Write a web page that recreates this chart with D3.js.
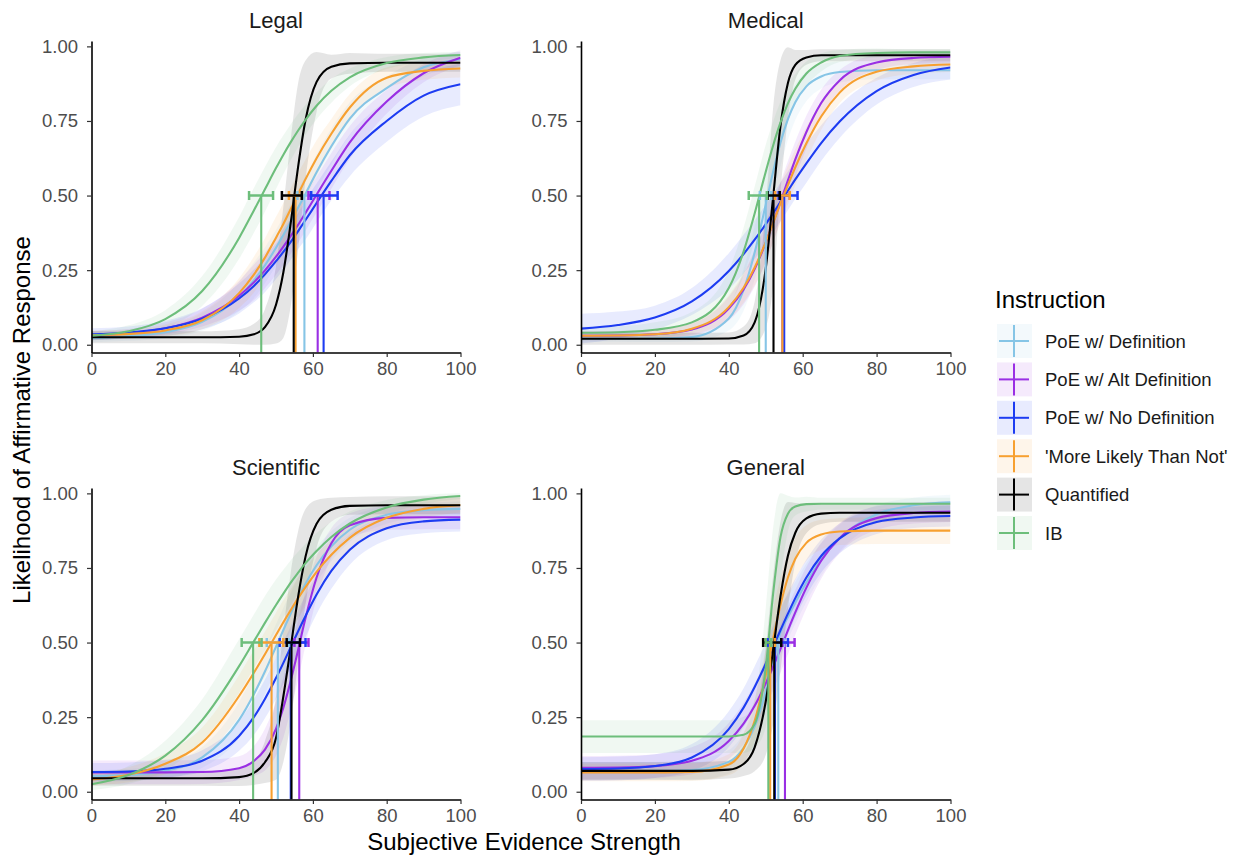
<!DOCTYPE html>
<html><head><meta charset="utf-8">
<script src="https://cdn.jsdelivr.net/npm/d3@7"></script>
<style>
body{margin:0;background:#fff}
svg{display:block}
text{font-family:"Liberation Sans",Arial,Helvetica,sans-serif}
</style>
</head><body>
<svg id="chart" width="1249" height="858"></svg>
<script>
// ---------------- DATA ----------------
const xGrid = [0,10,20,30,40,44,47,50,52,54,56,58,61,65,70,80,90,100];
const instructions = ["PoE w/ Definition","PoE w/ Alt Definition","PoE w/ No Definition","'More Likely Than Not'","Quantified","IB"];
const colors = ["#86c5e6","#9a2fe4","#1d3cf2","#f7a030","#000000","#6dbe7b"];
const panelNames = ["Legal","Medical","Scientific","General"];
const xTicks = [0,20,40,60,80,100];
const yTicks = [0,0.25,0.5,0.75,1];

// Legal
const legalLines = [
 [.023,.028,.042,.077,.161,.216,.266,.325,.368,.412,.460,.506,.578,.665,.758,.860,.930,.957],
 [.031,.038,.055,.091,.164,.209,.249,.295,.329,.365,.402,.442,.503,.583,.678,.815,.910,.962],
 [.035,.041,.055,.087,.155,.197,.236,.280,.311,.345,.381,.418,.475,.549,.635,.750,.835,.873],
 [.032,.036,.048,.082,.173,.235,.292,.359,.405,.455,.505,.555,.625,.707,.795,.895,.918,.926],
 [.025,.025,.025,.025,.027,.035,.059,.134,.243,.409,.597,.753,.881,.932,.943,.945,.945,.945],
 [.030,.045,.086,.180,.358,.450,.521,.592,.637,.679,.718,.754,.801,.851,.896,.944,.963,.971]
];
const legalBands = [
 [.015,.015,.02,.03,.05,.06,.06,.06,.06,.06,.06,.06,.06,.06,.055,.04,.03,.025],
 [.015,.015,.02,.03,.05,.06,.06,.06,.06,.06,.06,.06,.06,.06,.055,.04,.03,.025],
 [.02,.02,.025,.035,.05,.055,.06,.06,.06,.06,.06,.065,.065,.065,.07,.07,.07,.07],
 [.015,.015,.02,.03,.05,.06,.065,.07,.07,.07,.07,.065,.06,.05,.045,.035,.03,.03],
 [.02,.02,.02,.02,.025,.035,.06,.13,.22,.28,.28,.2,.1,.04,.035,.03,.03,.03],
 [.015,.02,.03,.05,.07,.075,.075,.07,.065,.06,.055,.05,.045,.04,.03,.02,.015,.01]
];
const legalThresh = [57.7,61.3,62.9,55.3,54.8,46.0];
const legalErrLo = [55.8,58.8,59.5,53.5,51.6,42.7];
const legalErrHi = [59.6,64.5,66.7,57.0,57.0,49.2];

// Medical
const medicalLines = [
 [.020,.020,.021,.026,.088,.184,.309,.470,.580,.678,.756,.813,.866,.899,.914,.920,.920,.920],
 [.030,.031,.035,.051,.121,.185,.254,.342,.409,.480,.551,.621,.713,.810,.886,.946,.961,.965],
 [.054,.066,.091,.145,.247,.304,.352,.404,.441,.479,.516,.554,.608,.676,.748,.850,.904,.929],
 [.030,.031,.035,.054,.126,.191,.259,.344,.408,.475,.535,.595,.675,.765,.845,.915,.933,.939],
 [.020,.020,.020,.020,.021,.031,.075,.256,.495,.734,.877,.938,.963,.970,.970,.970,.970,.970],
 [.040,.042,.050,.075,.190,.312,.440,.580,.668,.745,.809,.858,.909,.946,.968,.978,.980,.980]
];
const medicalBands = [
 [.01,.01,.012,.015,.04,.07,.09,.1,.09,.08,.07,.06,.05,.04,.035,.03,.03,.03],
 [.015,.015,.015,.02,.04,.05,.06,.065,.065,.065,.065,.06,.055,.045,.035,.025,.02,.02],
 [.05,.045,.04,.045,.06,.065,.065,.065,.065,.065,.065,.065,.065,.06,.055,.045,.04,.04],
 [.015,.015,.015,.02,.04,.05,.06,.065,.065,.065,.065,.06,.055,.045,.035,.03,.025,.025],
 [.02,.02,.02,.02,.02,.03,.07,.2,.3,.22,.12,.05,.025,.02,.02,.02,.02,.02],
 [.02,.02,.025,.035,.06,.08,.09,.09,.08,.07,.06,.05,.04,.03,.02,.015,.01,.01]
];
const medicalThresh = [50.0,54.5,55.0,54.5,52.1,48.2];
const medicalErrLo = [48.4,52.5,53.5,52.5,50.5,45.4];
const medicalErrHi = [51.5,56.5,58.6,56.5,53.8,50.3];

// Scientific
const scientificLines = [
 [.052,.056,.070,.115,.241,.327,.403,.486,.542,.597,.649,.697,.759,.823,.878,.928,.944,.948],
 [.065,.065,.065,.066,.079,.103,.141,.211,.282,.373,.476,.582,.718,.833,.893,.918,.920,.920],
 [.066,.068,.077,.104,.187,.250,.311,.381,.432,.485,.538,.589,.661,.740,.811,.883,.906,.912],
 [.041,.057,.094,.165,.321,.399,.461,.525,.568,.609,.649,.686,.737,.794,.851,.918,.948,.961],
 [.045,.045,.045,.045,.049,.063,.099,.180,.320,.485,.654,.788,.898,.945,.958,.960,.960,.960],
 [.025,.056,.121,.240,.421,.504,.566,.626,.664,.701,.734,.766,.807,.854,.899,.953,.979,.991]
];
const scientificBands = [
 [.02,.02,.025,.035,.06,.07,.075,.075,.075,.07,.07,.065,.06,.05,.04,.03,.025,.025],
 [.04,.04,.04,.04,.04,.05,.07,.09,.1,.1,.1,.09,.07,.05,.04,.04,.04,.04],
 [.03,.03,.03,.035,.05,.06,.065,.07,.07,.07,.07,.07,.065,.06,.05,.04,.04,.04],
 [.02,.025,.035,.05,.07,.075,.075,.075,.075,.07,.07,.065,.06,.05,.045,.035,.03,.025],
 [.025,.025,.025,.025,.03,.04,.07,.14,.22,.25,.22,.16,.08,.04,.03,.03,.03,.03],
 [.02,.03,.05,.07,.09,.09,.09,.085,.08,.075,.07,.065,.06,.05,.04,.025,.015,.01]
];
const scientificThresh = [50.5,56.3,54.0,48.8,54.2,43.8];
const scientificErrLo = [47.5,55.0,51.0,45.5,52.9,40.7];
const scientificErrHi = [53.5,58.8,58.0,52.0,56.5,46.1];

// General
const generalLines = [
 [.070,.070,.070,.073,.100,.147,.219,.336,.438,.535,.585,.633,.701,.778,.850,.930,.960,.970],
 [.080,.081,.086,.104,.170,.228,.288,.363,.419,.479,.541,.601,.684,.774,.850,.917,.934,.939],
 [.076,.078,.086,.115,.210,.282,.351,.429,.486,.542,.597,.649,.718,.790,.849,.904,.919,.924],
 [.065,.065,.065,.066,.091,.145,.238,.391,.513,.627,.718,.781,.834,.862,.872,.875,.875,.875],
 [.070,.070,.070,.070,.074,.093,.149,.303,.475,.656,.791,.868,.916,.932,.935,.935,.935,.935],
 [.185,.185,.185,.185,.185,.191,.227,.416,.665,.854,.932,.956,.964,.965,.965,.965,.965,.965]
];
const generalBands = [
 [.03,.03,.03,.035,.04,.05,.06,.07,.08,.08,.075,.07,.065,.055,.045,.03,.025,.025],
 [.04,.04,.04,.045,.06,.07,.075,.08,.08,.08,.08,.075,.07,.06,.05,.04,.035,.035],
 [.04,.04,.04,.045,.06,.065,.07,.07,.07,.07,.07,.065,.06,.055,.05,.04,.035,.035],
 [.03,.03,.03,.03,.035,.05,.07,.09,.1,.09,.08,.07,.06,.05,.045,.045,.045,.045],
 [.03,.03,.03,.03,.03,.04,.08,.18,.25,.25,.18,.1,.05,.035,.03,.03,.03,.03],
 [.055,.055,.055,.055,.055,.06,.08,.2,.22,.15,.06,.03,.025,.02,.02,.02,.02,.02]
];
const generalThresh = [53.4,55.2,52.5,51.2,52.3,50.7];
const generalErrLo = [51.5,54.5,50.5,50.0,49.3,50.0];
const generalErrHi = [55.0,57.8,56.0,52.5,54.2,51.5];

// ---------------- LAYOUT ----------------
const panelsData = [
 {name:panelNames[0], lines:legalLines, bands:legalBands, thr:legalThresh, lo:legalErrLo, hi:legalErrHi, x0:91.5, x1:460.5, top:41, bottom:352.5},
 {name:panelNames[1], lines:medicalLines, bands:medicalBands, thr:medicalThresh, lo:medicalErrLo, hi:medicalErrHi, x0:581, x1:950.5, top:41, bottom:352.5},
 {name:panelNames[2], lines:scientificLines, bands:scientificBands, thr:scientificThresh, lo:scientificErrLo, hi:scientificErrHi, x0:91.5, x1:460.5, top:488, bottom:799.5},
 {name:panelNames[3], lines:generalLines, bands:generalBands, thr:generalThresh, lo:generalErrLo, hi:generalErrHi, x0:581, x1:950.5, top:488, bottom:799.5}
];
const yDomain = [-0.026, 1.018];

const svg = d3.select("#chart");
svg.append("rect").attr("width",1249).attr("height",858).attr("fill","#fff");
const defs = svg.append("defs");

panelsData.forEach((p, pi) => {
  const x = d3.scaleLinear().domain([0,100]).range([p.x0, p.x1]);
  const y = d3.scaleLinear().domain(yDomain).range([p.bottom, p.top]);
  const clipId = "clip" + pi;
  defs.append("clipPath").attr("id", clipId).append("rect")
    .attr("x", p.x0).attr("y", p.top).attr("width", p.x1 - p.x0).attr("height", p.bottom - p.top);
  const g = svg.append("g");
  const plot = g.append("g").attr("clip-path", `url(#${clipId})`);

  // ribbons
  p.lines.forEach((vals, si) => {
    const area = d3.area()
      .x((d,i) => x(xGrid[i]))
      .y0((d,i) => y(Math.max(0, d - p.bands[si][i])))
      .y1((d,i) => y(Math.min(1, d + p.bands[si][i])))
      .curve(d3.curveMonotoneX);
    plot.append("path").attr("d", area(vals))
      .attr("fill", colors[si]).attr("fill-opacity", 0.1).attr("stroke","none");
  });
  // lines
  p.lines.forEach((vals, si) => {
    const line = d3.line().x((d,i) => x(xGrid[i])).y(d => y(d)).curve(d3.curveMonotoneX);
    plot.append("path").attr("d", line(vals))
      .attr("fill","none").attr("stroke", colors[si]).attr("stroke-width", 2.1);
  });
  // vertical threshold lines
  p.thr.forEach((t, si) => {
    plot.append("line")
      .attr("x1", x(t)).attr("x2", x(t))
      .attr("y1", y(0.5)).attr("y2", p.bottom)
      .attr("stroke", colors[si]).attr("stroke-width", 2.1);
  });
  // horizontal error bars
  p.thr.forEach((t, si) => {
    const yy = y(0.5);
    const eg = plot.append("g").attr("stroke", colors[si]).attr("stroke-width", 2.5);
    eg.append("line").attr("x1", x(p.lo[si])).attr("x2", x(p.hi[si])).attr("y1", yy).attr("y2", yy);
    eg.append("line").attr("x1", x(p.lo[si])).attr("x2", x(p.lo[si])).attr("y1", yy-4.5).attr("y2", yy+4.5);
    eg.append("line").attr("x1", x(p.hi[si])).attr("x2", x(p.hi[si])).attr("y1", yy-4.5).attr("y2", yy+4.5);
  });

  // axes
  const xAxis = d3.axisBottom(x).tickValues(xTicks).tickFormat(d3.format("d")).tickSizeInner(4.5).tickSizeOuter(0).tickPadding(5);
  const yAxis = d3.axisLeft(y).tickValues(yTicks).tickFormat(d3.format(".2f")).tickSizeInner(4.5).tickSizeOuter(0).tickPadding(9);
  const gx = g.append("g").attr("transform", `translate(0,${p.bottom})`).call(xAxis);
  const gy = g.append("g").attr("transform", `translate(${p.x0},0)`).call(yAxis);
  [gx, gy].forEach(ax => {
    ax.select(".domain").attr("stroke","#000").attr("stroke-width",1.6);
    ax.selectAll(".tick line").attr("stroke","#333").attr("stroke-width",1.2);
    ax.selectAll(".tick text").attr("fill","#4d4d4d").style("font-size","18.5px")
      .style("font-family",'"Liberation Sans",Arial,sans-serif');
  });

  // strip title
  g.append("text").attr("x", (p.x0 + p.x1)/2).attr("y", p.top - 13)
    .attr("text-anchor","middle").attr("fill","#1a1a1a").style("font-size","22px").text(p.name);
});

// axis titles
svg.append("text").attr("x", 524).attr("y", 850).attr("text-anchor","middle")
  .attr("fill","#000").style("font-size","24px").text("Subjective Evidence Strength");
svg.append("text").attr("transform","translate(30,420) rotate(-90)").attr("text-anchor","middle")
  .attr("fill","#000").style("font-size","24px").text("Likelihood of Affirmative Response");

// legend
const leg = svg.append("g");
leg.append("text").attr("x", 995).attr("y", 308).attr("fill","#000").style("font-size","24px").text("Instruction");
const rowY = d3.scaleLinear().domain([0,5]).range([341, 533]);
instructions.forEach((name, i) => {
  const cy = rowY(i);
  leg.append("rect").attr("x", 997).attr("y", cy - 17).attr("width", 35).attr("height", 34)
    .attr("fill", colors[i]).attr("fill-opacity", 0.1);
  leg.append("line").attr("x1", 999).attr("x2", 1029).attr("y1", cy).attr("y2", cy)
    .attr("stroke", colors[i]).attr("stroke-width", 2);
  leg.append("line").attr("x1", 1014).attr("x2", 1014).attr("y1", cy - 16).attr("y2", cy + 16)
    .attr("stroke", colors[i]).attr("stroke-width", 2);
  leg.append("text").attr("x", 1045).attr("y", cy + 6.5).attr("fill","#1a1a1a")
    .style("font-size","18.5px").text(name);
});
</script>
</body></html>
